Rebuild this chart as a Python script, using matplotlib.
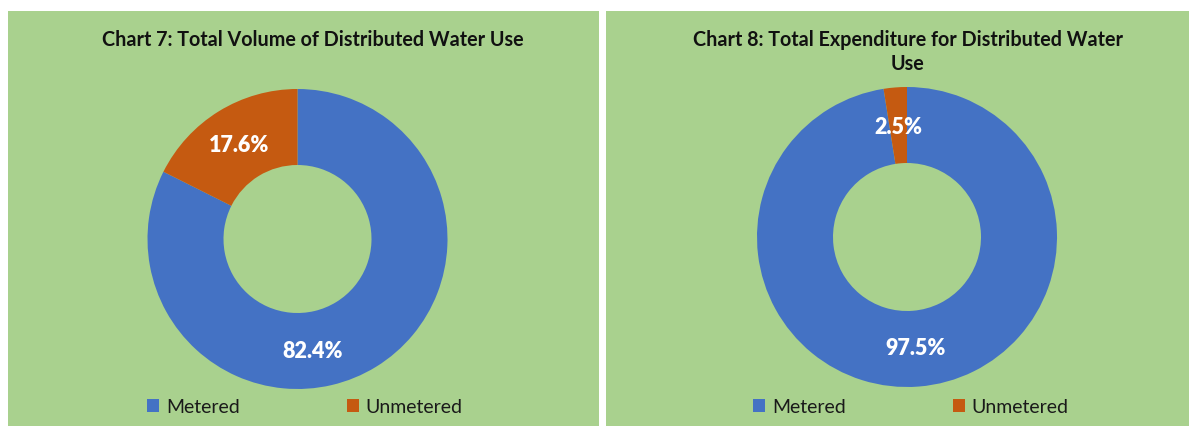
import matplotlib.pyplot as plt
from matplotlib.patches import Patch

# data
categories = ["Metered", "Unmetered"]
volume_pct = [82.4, 17.6]
expenditure_pct = [97.5, 2.5]
titles = ["Chart 7: Total Volume of Distributed Water Use",
          "Chart 8: Total Expenditure for Distributed Water\nUse"]

colors = ["#4472C4", "#C55A11"]
green = "#A9D18E"
W, H = 1189, 427

plt.rcParams['font.family'] = ['Lato', 'DejaVu Sans']

fig = plt.figure(figsize=(W / 100, H / 100), dpi=100)
fig.patch.set_facecolor("white")

# panel boxes in image pixels: x0, x1, y0(top), y1(bottom)
panels = [(8, 599, 12, 427), (606, 1189, 12, 427)]
centers = [(297.5, H - 240), (907, H - 238)]
title_pos = [(313, H - 40), (908, H - 52)]
legend_pos = [(305, H - 408), (911, H - 408)]

for i, values in enumerate([volume_pct, expenditure_pct]):
    x0, x1, y0, y1 = panels[i]
    ax = fig.add_axes([x0 / W, (H - y1) / H, (x1 - x0) / W, (y1 - y0) / H])
    wedges, _, autotexts = ax.pie(
        values, colors=colors, startangle=90, counterclock=False,
        center=centers[i], radius=150, frame=True,
        wedgeprops=dict(width=76, linewidth=0),
        autopct="%.1f%%", pctdistance=0.74,
        textprops=dict(color="white", fontsize=15.5, fontweight="heavy"))
    for t in autotexts:
        t.set_ha("center")
        t.set_va("center")
    if i == 0:
        # label moved by hand in the original
        autotexts[0].set_position((centers[0][0] + 15, centers[0][1] - 112))
    ax.set_xlim(x0, x1)
    ax.set_ylim(H - y1, H - y0)
    ax.set_aspect("auto")
    ax.set_xticks([])
    ax.set_yticks([])
    for s in ax.spines.values():
        s.set_visible(False)
    ax.set_facecolor(green)

    ax.text(title_pos[i][0], title_pos[i][1], titles[i], ha="center", va="center",
            fontsize=14.2, fontweight="bold", color="#111111", linespacing=1.3)

    handles = [Patch(facecolor=c, edgecolor="none") for c in colors]
    ax.legend(handles, categories, loc="center", bbox_to_anchor=legend_pos[i],
              bbox_transform=ax.transData, ncol=2, frameon=False,
              fontsize=14, handlelength=0.62, handleheight=0.62,
              handletextpad=0.35, columnspacing=5.5, borderpad=0,
              labelcolor="#1a1a1a")

fig.savefig("out.png", dpi=100, facecolor="white")
